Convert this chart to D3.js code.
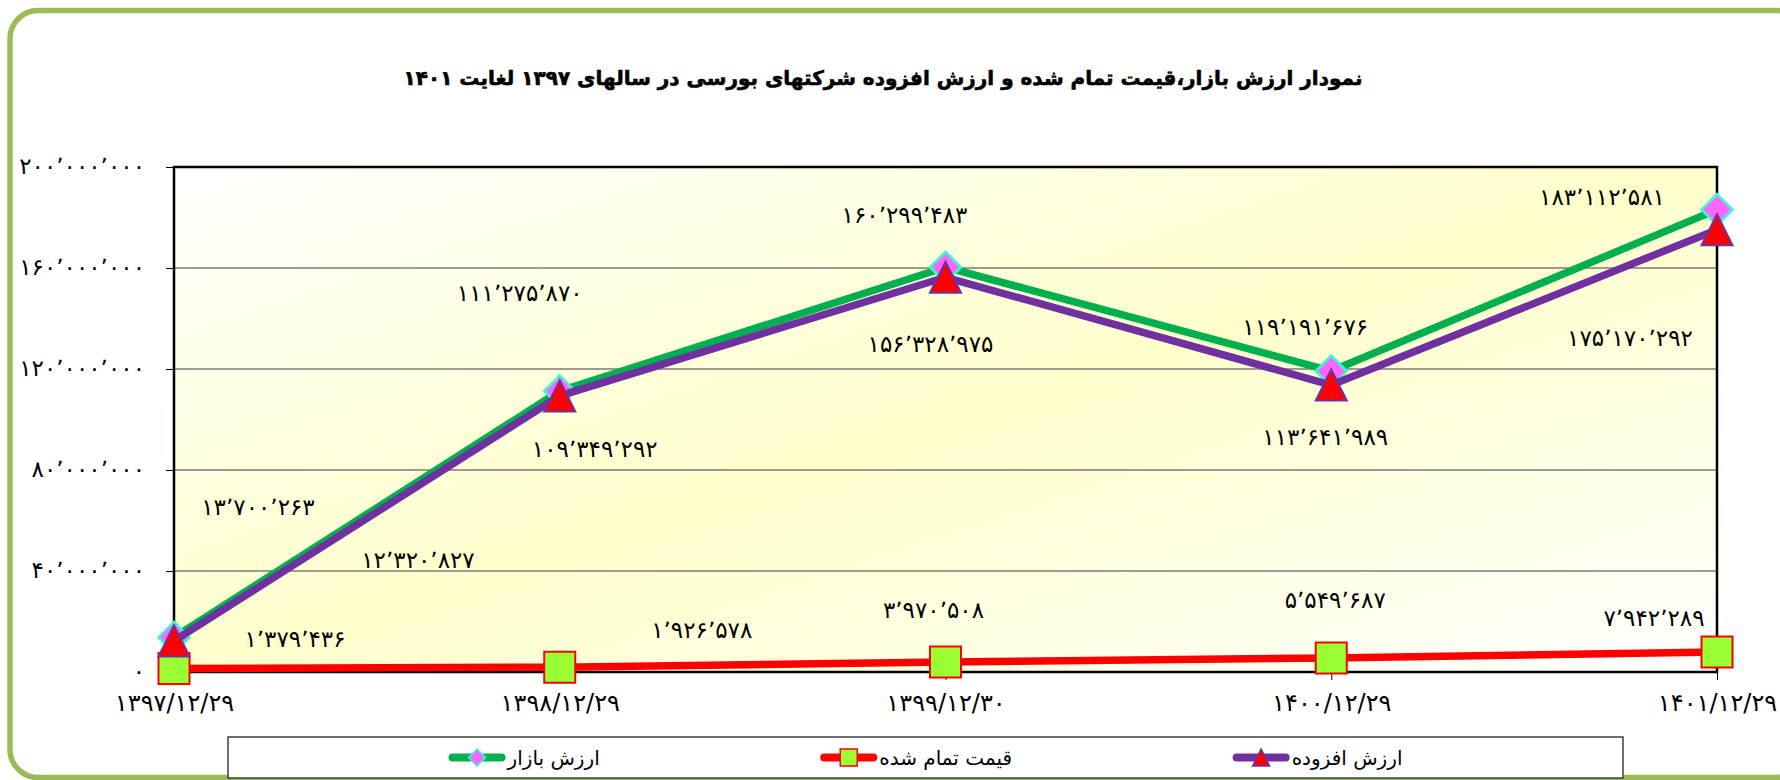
<!DOCTYPE html>
<html>
<head>
<meta charset="utf-8">
<script src="https://cdn.jsdelivr.net/npm/d3@7"></script>
<style>
  body { margin: 0; background: #fff; }
  text { font-family: "DejaVu Sans", sans-serif; fill: #000; }
</style>
</head>
<body>
<svg width="1780" height="780"></svg>
<script>
// chart data
var years = ["۱۳۹۷/۱۲/۲۹", "۱۳۹۸/۱۲/۲۹", "۱۳۹۹/۱۲/۳۰", "۱۴۰۰/۱۲/۲۹", "۱۴۰۱/۱۲/۲۹"];
var marketValue = [13700263, 111275870, 160299483, 119191676, 183112581];
var costPrice = [1379436, 1926578, 3970508, 5549687, 7942289];
var valueAdded = [12320827, 109349292, 156328975, 113641989, 175170292];
var yTicks = [0, 40000000, 80000000, 120000000, 160000000, 200000000];
var seriesNames = ["ارزش بازار", "قیمت تمام شده", "ارزش افزوده"];
var title = "نمودار ارزش بازار،قیمت تمام شده و ارزش  افزوده شرکتهای بورسی در سالهای ۱۳۹۷ لغایت ۱۴۰۱";

// label offsets from the point (labels were moved by hand in the original)
var marketLabelOff = [[84, -130], [-40, -98], [-41, -52], [-26, -44], [-115, -13]];
var costLabelOff = [[121, -30], [142, -37], [-12, -52], [4, -58], [-63, -34]];
var addedLabelOff = [[244, -81], [35, 53], [-15, 67], [-6, 52], [-87, 108]];

var svg = d3.select("svg");

// persian digits + arabic thousands separator
function fa(n) {
  return d3.format(",")(n)
    .replace(/[0-9]/g, function (c) { return "۰۱۲۳۴۵۶۷۸۹"[+c]; })
    .replace(/,/g, "٬");
}

var defs = svg.append("defs");
var grad = defs.append("linearGradient")
  .attr("id", "bg")
  .attr("x1", 0).attr("y1", 0).attr("x2", 1).attr("y2", 1);
grad.append("stop").attr("offset", "0%").attr("stop-color", "#ffffff");
grad.append("stop").attr("offset", "50%").attr("stop-color", "#ffffcc");
grad.append("stop").attr("offset", "100%").attr("stop-color", "#ffffff");

// outer frame
svg.append("rect")
  .attr("x", 10).attr("y", 10.5)
  .attr("width", 1795).attr("height", 767)
  .attr("rx", 28)
  .attr("fill", "none")
  .attr("stroke", "#9bbb59")
  .attr("stroke-width", 5.5);

svg.append("text")
  .attr("x", 883).attr("y", 78)
  .attr("direction", "rtl")
  .attr("text-anchor", "middle")
  .attr("dominant-baseline", "central")
  .style("font-weight", "bold")
  .style("font-size", "20px")
  .style("stroke", "#000")
  .style("stroke-width", "0.6px")
  .text(title);

var plotLeft = 174, plotRight = 1717, plotTop = 167, plotBottom = 672;

var x = d3.scalePoint().domain(d3.range(years.length)).range([plotLeft, plotRight]);
var y = d3.scaleLinear().domain([0, 200000000]).range([plotBottom, plotTop]);

svg.append("rect")
  .attr("x", plotLeft).attr("y", plotTop)
  .attr("width", plotRight - plotLeft).attr("height", plotBottom - plotTop)
  .attr("fill", "url(#bg)");

// grid
svg.append("g")
  .selectAll("line")
  .data(yTicks.slice(1, -1))
  .enter().append("line")
  .attr("x1", plotLeft).attr("x2", plotRight)
  .attr("y1", function (d) { return y(d); })
  .attr("y2", function (d) { return y(d); })
  .attr("stroke", "#7a7a7a")
  .attr("stroke-width", 1.3);

svg.append("rect")
  .attr("x", plotLeft).attr("y", plotTop)
  .attr("width", plotRight - plotLeft).attr("height", plotBottom - plotTop)
  .attr("fill", "none")
  .attr("stroke", "#000")
  .attr("stroke-width", 2.5);

// y axis
var yAxis = d3.axisLeft(y).tickValues(yTicks).tickSize(8).tickPadding(21).tickFormat(fa);
var gy = svg.append("g").attr("transform", "translate(" + plotLeft + ",0)").call(yAxis);
gy.select(".domain").remove();
gy.selectAll("text").style("font-size", "23px").attr("fill", "#000").attr("dy", "0.3em");

// x axis
var xAxis = d3.axisBottom(x).tickSize(8).tickPadding(14).tickFormat(function (i) { return years[i]; });
var gx = svg.append("g").attr("transform", "translate(0," + plotBottom + ")").call(xAxis);
gx.select(".domain").remove();
gx.selectAll("text").style("font-size", "24px").attr("fill", "#000");

// marker shapes
function diamond(s) {
  var h = s / 2;
  return "M0," + (-h) + "L" + h + ",0L0," + h + "L" + (-h) + ",0Z";
}
function triangle(s) {
  var h = s / 2;
  return "M0," + (-h) + "L" + h + "," + h + "L" + (-h) + "," + h + "Z";
}
function square(s) {
  var h = s / 2;
  return "M" + (-h) + "," + (-h) + "H" + h + "V" + h + "H" + (-h) + "Z";
}

var series = [
  { name: seriesNames[0], values: marketValue, color: "#00b050", shape: diamond, size: 31, fill: "#ff66ff", stroke: "#33ffcc", sw: 2.5, off: marketLabelOff },
  { name: seriesNames[1], values: costPrice, color: "#ff0000", shape: square, size: 31, fill: "#99ff33", stroke: "#ff0000", sw: 2, off: costLabelOff },
  { name: seriesNames[2], values: valueAdded, color: "#7030a0", shape: triangle, size: 31, fill: "#ff0000", stroke: "#7030a0", sw: 2, off: addedLabelOff }
];

var line = d3.line()
  .x(function (d, i) { return x(i); })
  .y(function (d) { return y(d); });

series.forEach(function (s) {
  var g = svg.append("g");
  g.append("path")
    .attr("d", line(s.values))
    .attr("fill", "none")
    .attr("stroke", s.color)
    .attr("stroke-width", 7.5)
    .attr("stroke-linejoin", "round");
  g.selectAll("path.m")
    .data(s.values)
    .enter().append("path")
    .attr("class", "m")
    .attr("transform", function (d, i) { return "translate(" + x(i) + "," + y(d) + ")"; })
    .attr("d", s.shape(s.size))
    .attr("fill", s.fill)
    .attr("stroke", s.stroke)
    .attr("stroke-width", s.sw);
});

// data labels on top
series.forEach(function (s) {
  svg.append("g")
    .selectAll("text")
    .data(s.values)
    .enter().append("text")
    .attr("x", function (d, i) { return x(i) + s.off[i][0]; })
    .attr("y", function (d, i) { return y(d) + s.off[i][1]; })
    .attr("text-anchor", "middle")
    .attr("dominant-baseline", "central")
    .style("font-size", "23px")
    .text(function (d) { return fa(d); });
});

// legend
var lgX = 228, lgY = 737, lgW = 1395, lgH = 41;
svg.append("rect")
  .attr("x", lgX).attr("y", lgY)
  .attr("width", lgW).attr("height", lgH)
  .attr("fill", "#fff")
  .attr("stroke", "#404040")
  .attr("stroke-width", 1.5);

var symW = 57, symGap = 2;
var items = series.map(function (s) {
  var g = svg.append("g");
  var t = g.append("text")
    .attr("direction", "rtl")
    .attr("text-anchor", "middle")
    .attr("dominant-baseline", "central")
    .style("font-size", "20px")
    .text(s.name);
  return { s: s, g: g, t: t, w: symW + symGap + t.node().getComputedTextLength() };
});
var gap = (lgW - d3.sum(items, function (d) { return d.w; })) / (items.length + 1);
var cx = lgX + gap;
items.forEach(function (it) {
  var cy = lgY + lgH / 2;
  it.g.append("line")
    .attr("x1", cx + 4).attr("x2", cx + symW - 4)
    .attr("y1", cy).attr("y2", cy)
    .attr("stroke", it.s.color)
    .attr("stroke-width", 8)
    .attr("stroke-linecap", "round");
  it.g.append("path")
    .attr("transform", "translate(" + (cx + symW / 2) + "," + cy + ")")
    .attr("d", it.s.shape(17))
    .attr("fill", it.s.fill)
    .attr("stroke", it.s.stroke)
    .attr("stroke-width", 1.5);
  var tw = it.w - symW - symGap;
  it.t.attr("x", cx + symW + symGap + tw / 2).attr("y", cy);
  cx += it.w + gap;
});
</script>
</body>
</html>
